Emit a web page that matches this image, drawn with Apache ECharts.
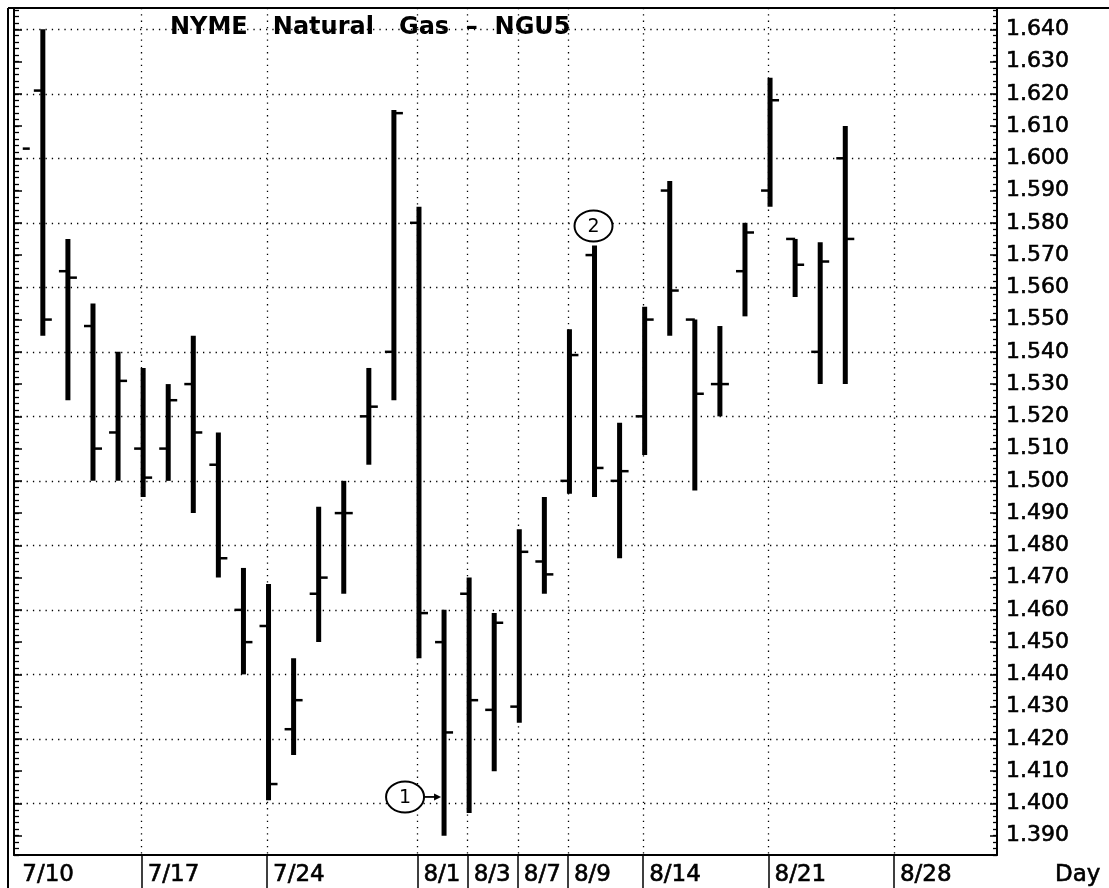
<!DOCTYPE html>
<html>
<head>
<meta charset="utf-8">
<script src="https://cdn.jsdelivr.net/npm/echarts@6/dist/echarts.min.js"></script>
<style>
html,body{margin:0;padding:0;background:#fff;}
#chart{width:1109px;height:888px;}
</style>
</head>
<body>
<div id="chart"></div>
<script>
// ---------------- data ----------------
const tradingDays = ['7/10','7/11','7/12','7/13','7/14','7/17','7/18','7/19','7/20','7/21',
  '7/24','7/25','7/26','7/27','7/28','7/31','8/1','8/2','8/3','8/4',
  '8/7','8/8','8/9','8/10','8/11','8/14','8/15','8/16','8/17','8/18',
  '8/21','8/22','8/23','8/24','8/25','8/28','8/29','8/30','8/31','9/1'];
const axisDates = ['7/10','7/17','7/24','8/1','8/3','8/7','8/9','8/14','8/21','8/28'];

const barDays = ['7/11','7/12','7/13','7/14','7/17','7/18','7/19','7/20','7/21',
  '7/24','7/25','7/26','7/27','7/28','7/31','8/1','8/2','8/3','8/4',
  '8/7','8/8','8/9','8/10','8/11','8/14','8/15','8/16','8/17','8/18',
  '8/21','8/22','8/23','8/24'];
const opens  = [1.621,1.565,1.548,1.515,1.510,1.510,1.530,1.505,1.460,
  1.455,1.423,1.465,1.490,1.520,1.540,1.580,1.450,1.465,1.429,
  1.430,1.475,1.500,1.570,1.500,1.520,1.590,1.550,1.530,1.565,
  1.590,1.575,1.540,1.600];
const highs  = [1.640,1.575,1.555,1.540,1.535,1.530,1.545,1.515,1.473,
  1.468,1.445,1.492,1.500,1.535,1.615,1.585,1.460,1.470,1.459,
  1.485,1.495,1.547,1.573,1.518,1.554,1.593,1.550,1.548,1.580,
  1.625,1.575,1.574,1.610];
const lows   = [1.545,1.525,1.500,1.500,1.495,1.500,1.490,1.470,1.440,
  1.401,1.415,1.450,1.465,1.505,1.525,1.445,1.390,1.397,1.410,
  1.425,1.465,1.496,1.495,1.476,1.508,1.545,1.497,1.520,1.551,
  1.585,1.557,1.530,1.530];
const closes = [1.550,1.563,1.510,1.531,1.501,1.525,1.515,1.476,1.450,
  1.406,1.432,1.470,1.490,1.523,1.614,1.459,1.422,1.432,1.456,
  1.478,1.471,1.539,1.504,1.503,1.550,1.559,1.527,1.530,1.577,
  1.618,1.567,1.568,1.575];
const priorCloseDay = '7/10';
const priorClose = 1.603;

const yTickLabels = ['1.390','1.400','1.410','1.420','1.430','1.440','1.450','1.460','1.470',
  '1.480','1.490','1.500','1.510','1.520','1.530','1.540','1.550','1.560','1.570','1.580',
  '1.590','1.600','1.610','1.620','1.630','1.640'];
const yGridLabels = ['1.400','1.420','1.440','1.460','1.480','1.500','1.520','1.540',
  '1.560','1.580','1.600','1.620','1.640'];

const annotations = [
  {text:'1', day:'8/2',  value:1.402, dx:-39, arrow:true},
  {text:'2', day:'8/10', value:1.579, dx:-1,  arrow:false}
];

// ---------------- derived ----------------
const Y_MIN = 1.384, Y_MAX = 1.6466;
const X_MIN = -0.09, X_MAX = 39.11;
const yTickVals = yTickLabels.map(Number);
const yGridVals = yGridLabels.map(Number);
const yMinorVals = [];
for (let k = 692; k <= 823; k++) yMinorVals.push(Number((k * 0.002).toFixed(3)));
const xLabelIdx = axisDates.map(d => tradingDays.indexOf(d));
const xSepIdx = xLabelIdx.filter(v => v > 0);

const ohlcData = barDays.map((d, i) => [tradingDays.indexOf(d), opens[i], closes[i], lows[i], highs[i]]);
const priorData = [[tradingDays.indexOf(priorCloseDay), priorClose]];
const annData = annotations.map(a => [tradingDays.indexOf(a.day), a.value]);

const FONT = "'DejaVu Sans', 'Liberation Sans', sans-serif";
const BAR_W = 5, TICK = 9, TICK_W = 2.5, SHIFT = 1.5;

function renderOHLC(params, api) {
  const x = api.value(0), o = api.value(1), c = api.value(2), l = api.value(3), h = api.value(4);
  const cx = api.coord([x, c])[0] + SHIFT;
  const yl = api.coord([x, l])[1], yh = api.coord([x, h])[1];
  const yo = api.coord([x, o])[1], yc = api.coord([x, c])[1];
  return {
    type: 'group',
    children: [
      {type:'line', shape:{x1:cx, y1:yl, x2:cx, y2:yh}, style:{stroke:'#000', lineWidth:BAR_W}},
      {type:'line', shape:{x1:cx - TICK, y1:yo, x2:cx, y2:yo}, style:{stroke:'#000', lineWidth:TICK_W}},
      {type:'line', shape:{x1:cx, y1:yc, x2:cx + TICK, y2:yc}, style:{stroke:'#000', lineWidth:TICK_W}}
    ]
  };
}
function renderPrior(params, api) {
  const p = api.coord([api.value(0), api.value(1)]);
  const cx = p[0] + SHIFT;
  return {type:'line', shape:{x1:cx + 5, y1:p[1], x2:cx + 12, y2:p[1]}, style:{stroke:'#000', lineWidth:TICK_W}};
}
function renderAnn(params, api) {
  const a = annotations[params.dataIndex];
  const p = api.coord([api.value(0), api.value(1)]);
  const cx = p[0] + SHIFT + a.dx, cy = p[1];
  const rx = 19, ry = 15.5;
  const ch = [
    {type:'ellipse', shape:{cx:cx, cy:cy, rx:rx, ry:ry}, style:{fill:'#fff', stroke:'#000', lineWidth:2}},
    {type:'text', style:{x:cx, y:cy + 1, text:a.text, fill:'#000', font:'19px ' + FONT, align:'center', verticalAlign:'middle'}}
  ];
  if (a.arrow) {
    const bx = p[0] + SHIFT - 3;
    ch.push({type:'line', shape:{x1:cx + rx, y1:cy, x2:bx - 5, y2:cy}, style:{stroke:'#000', lineWidth:1.8}});
    ch.push({type:'polygon', shape:{points:[[bx, cy], [bx - 7, cy - 3.5], [bx - 7, cy + 3.5]]}, style:{fill:'#000'}});
  }
  return {type:'group', children: ch};
}

const dotted = {color:'#000', width:1.3, type:[1.3, 5]};
const thick = {textBorderColor:'#000', textBorderWidth:0.6};
function yBase(extra) {
  return Object.assign({
    type:'value', min:Y_MIN, max:Y_MAX, scale:true,
    axisLine:{show:false, onZero:false},
    axisTick:{show:false},
    axisLabel:{show:false},
    splitLine:{show:false}
  }, extra);
}

const chart = echarts.init(document.getElementById('chart'), null, {renderer:'canvas'});
chart.setOption({
  animation:false,
  backgroundColor:'#fff',
  title:{
    text:'NYME   Natural   Gas  –  NGU5',
    left:170, top:16, padding:0,
    textStyle:{fontFamily:FONT, fontWeight:'bold', fontSize:24, color:'#000'}
  },
  grid:{left:14, right:112, top:8, bottom:33, show:false, containLabel:false, outerBoundsMode:'none'},
  xAxis:{
    type:'value', min:X_MIN, max:X_MAX,
    axisLine:{show:true, onZero:false, lineStyle:{color:'#000', width:2}},
    axisTick:{show:true, customValues:xSepIdx, length:33, lineStyle:{color:'#000', width:1.5}},
    axisLabel:Object.assign({show:true, customValues:xLabelIdx, formatter:v => tradingDays[Math.round(v)],
      align:'left', padding:[0,0,0,6], margin:9, fontFamily:FONT, fontSize:23, color:'#000'}, thick),
    splitLine:{show:true, lineStyle:dotted},
    name:'Day', nameLocation:'end', nameGap:58,
    nameTextStyle:Object.assign({fontFamily:FONT, fontSize:23, color:'#000', align:'left', verticalAlign:'top', padding:[9,0,0,0]}, thick)
  },
  yAxis:[
    yBase({position:'right',
      axisLine:{show:true, onZero:false, lineStyle:{color:'#000', width:2}},
      axisTick:{show:true, inside:true, length:4, customValues:yMinorVals, lineStyle:{color:'#000', width:1.3}},
      axisLabel:Object.assign({show:true, customValues:yTickVals, formatter:v => yTickLabels[yTickVals.findIndex(t => Math.abs(t - v) < 1e-6)],
        margin:9, fontFamily:FONT, fontSize:22, color:'#000'}, thick)}),
    yBase({position:'right',
      axisTick:{show:true, inside:true, length:7, customValues:yTickVals, lineStyle:{color:'#000', width:1.5}}}),
    yBase({position:'left',
      axisLine:{show:true, onZero:false, lineStyle:{color:'#000', width:2}},
      axisTick:{show:true, inside:true, length:5, customValues:yMinorVals, lineStyle:{color:'#000', width:1.3}}}),
    yBase({position:'left',
      axisTick:{show:true, inside:true, length:8, customValues:yTickVals, lineStyle:{color:'#000', width:1.5}}}),
    yBase({position:'left',
      axisTick:{show:false, customValues:yGridVals},
      splitLine:{show:true, lineStyle:dotted}})
  ],
  graphic:[
    {type:'line', silent:true, z:100, shape:{x1:8, y1:8, x2:8, y2:888}, style:{stroke:'#000', lineWidth:2}},
    {type:'line', silent:true, z:100, shape:{x1:8, y1:8, x2:1109, y2:8}, style:{stroke:'#000', lineWidth:2}}
  ],
  series:[
    {type:'custom', name:'NGU5', xAxisIndex:0, yAxisIndex:0, data:ohlcData, renderItem:renderOHLC, silent:true, clip:false,
      encode:{x:0, y:[1,2,3,4]}},
    {type:'custom', name:'prior', xAxisIndex:0, yAxisIndex:0, data:priorData, renderItem:renderPrior, silent:true,
      encode:{x:0, y:1}},
    {type:'custom', name:'notes', xAxisIndex:0, yAxisIndex:0, data:annData, renderItem:renderAnn, silent:true, z:10,
      encode:{x:0, y:1}}
  ]
});
</script>
</body>
</html>
